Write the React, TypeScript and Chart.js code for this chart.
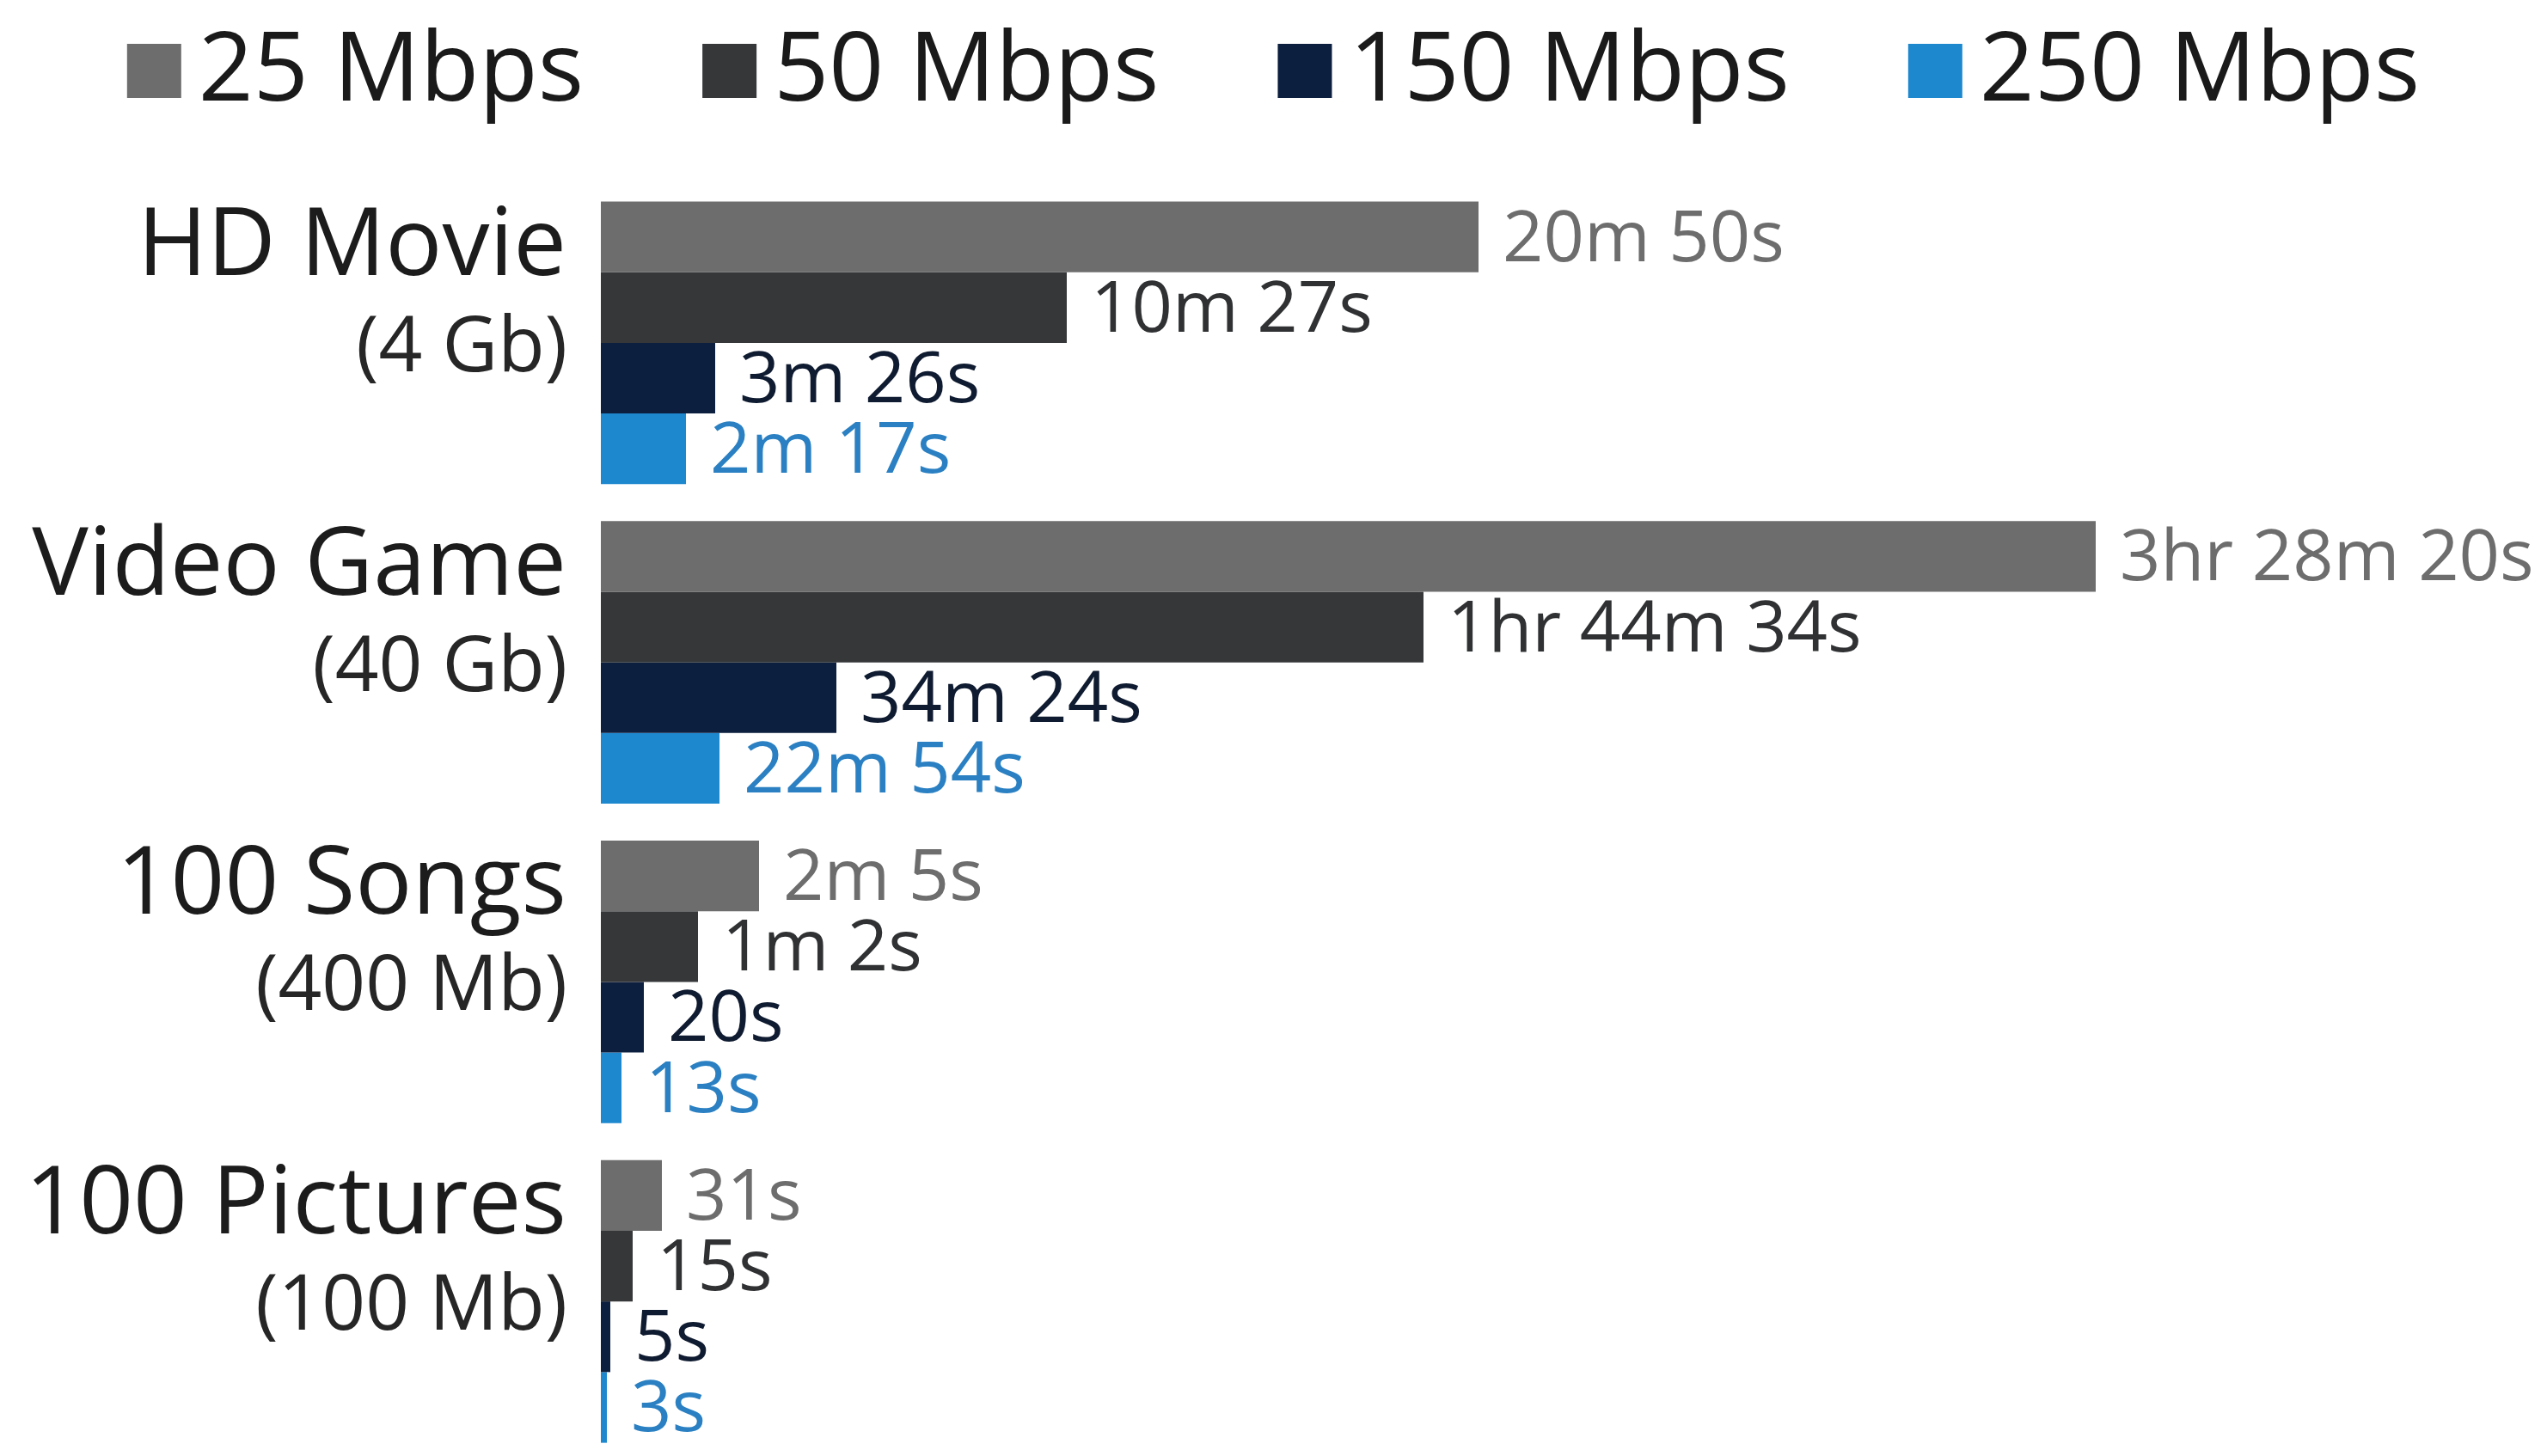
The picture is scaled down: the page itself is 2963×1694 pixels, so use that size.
import React, { useEffect, useRef } from "react";
import { Chart, registerables } from "chart.js";

Chart.register(...registerables);

const categories = ["HD Movie", "Video Game", "100 Songs", "100 Pictures"];
const categorySizes = ["(4 Gb)", "(40 Gb)", "(400 Mb)", "(100 Mb)"];
const seriesNames = ["25 Mbps", "50 Mbps", "150 Mbps", "250 Mbps"];

// bar lengths as drawn in the infographic (not proportional to time)
const bars25 = [1021, 1739, 184, 71];
const bars50 = [542, 957, 113, 37];
const bars150 = [133, 274, 50, 11];
const bars250 = [99, 138, 24, 7];

const labels25 = ["20m 50s", "3hr 28m 20s", "2m 5s", "31s"];
const labels50 = ["10m 27s", "1hr 44m 34s", "1m 2s", "15s"];
const labels150 = ["3m 26s", "34m 24s", "20s", "5s"];
const labels250 = ["2m 17s", "22m 54s", "13s", "3s"];

const barColors = ["#6d6d6d", "#353739", "#0c1f3e", "#1e88cf"];
const labelColors = ["#6d6d6d", "#2f3133", "#0f1b30", "#2a80c2"];

const FONT = "'Open Sans', 'Noto Sans', sans-serif";

const W = 2963;
const H = 1700;
const LEFT = 699;

const legendPlugin = {
  id: "customLegend",
  afterDraw(chart: any) {
    const ctx = chart.ctx;
    const ds = chart.data.datasets;
    ctx.save();
    ctx.font = `112px ${FONT}`;
    const box = 63;
    const gap = 20;
    const spacing = 138;
    const widths = ds.map((d: any) => ctx.measureText(d.label).width);
    let total = 0;
    widths.forEach((w: number, i: number) => {
      total += box + gap + w + (i < widths.length - 1 ? spacing : 0);
    });
    let x = (W - total) / 2;
    ds.forEach((d: any, i: number) => {
      ctx.fillStyle = d.backgroundColor;
      ctx.fillRect(x, 51, box, box);
      ctx.fillStyle = "#1a1a1a";
      ctx.textAlign = "left";
      ctx.textBaseline = "alphabetic";
      ctx.fillText(d.label, x + box + gap, 117);
      x += box + gap + widths[i] + spacing;
    });
    ctx.restore();
  },
};

const categoryLabelPlugin = {
  id: "categoryLabels",
  afterDraw(chart: any) {
    const ctx = chart.ctx;
    const y = chart.scales.y;
    ctx.save();
    ctx.textAlign = "right";
    ctx.textBaseline = "alphabetic";
    categories.forEach((c, i) => {
      const cy = y.getPixelForTick(i);
      ctx.fillStyle = "#1c1c1c";
      ctx.font = `110px ${FONT}`;
      ctx.fillText(c, 659, cy - 79);
      ctx.font = `89px ${FONT}`;
      ctx.fillStyle = "#262626";
      ctx.fillText(categorySizes[i], 660, cy + 33);
    });
    ctx.restore();
  },
};

const valueLabelPlugin = {
  id: "valueLabels",
  afterDatasetsDraw(chart: any) {
    const ctx = chart.ctx;
    const allLabels = [labels25, labels50, labels150, labels250];
    ctx.save();
    ctx.font = `83px ${FONT}`;
    ctx.textAlign = "left";
    ctx.textBaseline = "alphabetic";
    chart.data.datasets.forEach((_d: any, di: number) => {
      const meta = chart.getDatasetMeta(di);
      ctx.fillStyle = labelColors[di];
      meta.data.forEach((el: any, i: number) => {
        ctx.fillText(allLabels[di][i], el.x + 28, el.y + 28);
      });
    });
    ctx.restore();
  },
};

export default function App() {
  const ref = useRef<HTMLCanvasElement | null>(null);

  useEffect(() => {
    document.body.style.margin = "0";
    document.body.style.overflow = "hidden";
    document.body.style.background = "#ffffff";
    const canvas = ref.current;
    if (!canvas) return;
    const seriesBars = [bars25, bars50, bars150, bars250];
    const chart = new Chart(canvas, {
      type: "bar",
      data: {
        labels: categories,
        datasets: seriesNames.map((name, i) => ({
          label: name,
          data: seriesBars[i],
          backgroundColor: barColors[i],
          borderWidth: 0,
          barPercentage: 1,
          categoryPercentage: 0.885,
        })),
      },
      options: {
        indexAxis: "y",
        responsive: false,
        animation: false,
        devicePixelRatio: 1,
        layout: { padding: { top: 213, right: 0, bottom: 0, left: 0 } },
        plugins: {
          legend: { display: false },
          tooltip: { enabled: false },
        },
        scales: {
          x: {
            display: false,
            min: 0,
            max: W - LEFT,
          },
          y: {
            grid: { display: false },
            border: { display: false },
            ticks: { display: false },
            afterFit: (axis: any) => {
              axis.width = LEFT;
            },
          },
        },
      },
      plugins: [legendPlugin, categoryLabelPlugin, valueLabelPlugin],
    } as any);
    return () => chart.destroy();
  }, []);

  return (
    <div style={{ width: W, height: 1694, overflow: "hidden", background: "#fff" }}>
      <canvas ref={ref} width={W} height={H} style={{ width: W, height: H, display: "block" }} />
    </div>
  );
}
